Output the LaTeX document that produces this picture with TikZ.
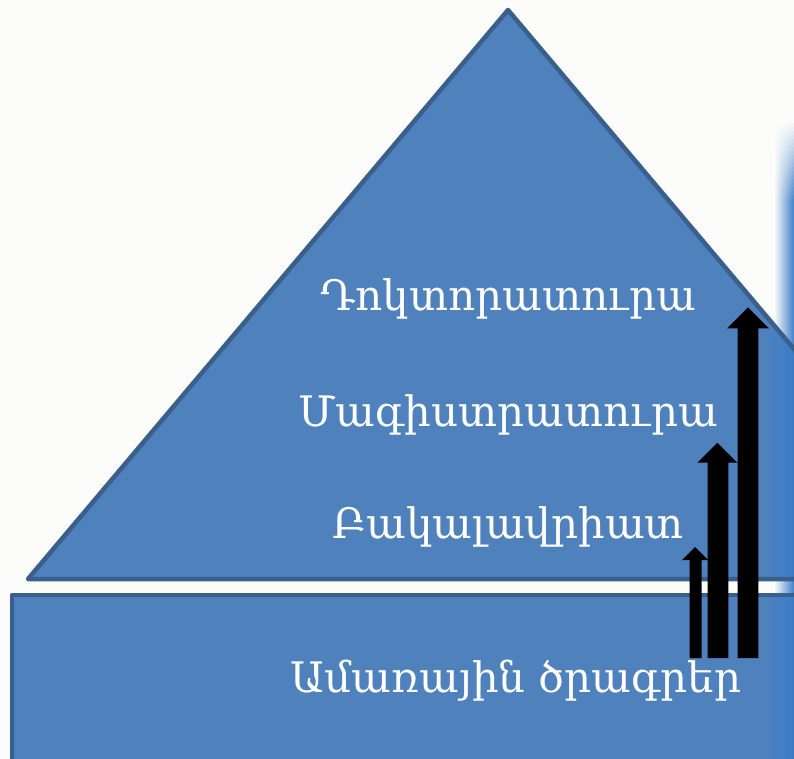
\documentclass[tikz,border=0pt]{standalone}
\usepackage{fontspec}
\setmainfont{DejaVu Serif}
\definecolor{bgwhite}{HTML}{FCFDFA}
\definecolor{fillblue}{HTML}{4F81BD}
\definecolor{edgeblue}{HTML}{3A5F8C}
\definecolor{glowblue}{HTML}{3C7CCA}
\tikzset{
  shapefill/.style={fill=fillblue},
  shapeedge/.style={draw=edgeblue, line width=4.5pt, line join=round},
  label/.style={text=white, anchor=base, inner sep=0pt, font=\fontsize{42}{50}\selectfont},
  blockarrow/.style={fill=black}
}
\begin{document}
\begin{tikzpicture}[x=1pt,y=-1pt]
\useasboundingbox (0,0) rectangle (794,759);
\begin{scope}
\clip (0,0) rectangle (794,759);
\fill[bgwhite] (0,0) rectangle (794,759);
% faint glow at the right edge, soft at its top
\foreach \i in {0,...,19}{
  \pgfmathsetmacro{\pct}{5*\i}
  \shade[left color=bgwhite, right color=glowblue!\pct!bgwhite]
    (774,{120+4*\i}) rectangle (794.5,{124.5+4*\i});
}
\shade[left color=bgwhite, right color=glowblue] (774,200) rectangle (794.5,759);
% triangle
\coordinate (apex) at (508,10);
\coordinate (bl) at (28,579);
\coordinate (br) at (988,579);
\fill[shapefill] (apex) -- (bl) -- (br) -- cycle;
\begin{scope}
\clip (apex) -- (bl) -- (br) -- cycle;
\shade[left color=fillblue, right color=glowblue] (764,0) rectangle (794.5,600);
\end{scope}
\draw[shapeedge] (apex) -- (bl) -- (br) -- cycle;
% base rectangle
\coordinate (rtl) at (12,595);
\coordinate (rbr) at (830,800);
\fill[shapefill] (rtl) rectangle (rbr);
\begin{scope}
\clip (rtl) rectangle (rbr);
\shade[left color=fillblue, right color=glowblue] (764,580) rectangle (794.5,800);
\end{scope}
\draw[shapeedge] (rtl) rectangle (rbr);
% labels
\node[label] (doc) at (508,310) {Դոկտորատուրա};
\node[label] (mag) at (508,426) {Մագիստրատուրա};
\node[label] (bak) at (508,538) {Բակալավրիատ};
\node[label] (sum) at (516,692) {Ամառային ծրագրեր};
% arrows
\fill[blockarrow] (689.5,658) -- (689.5,560) -- (682,560) -- (695,547) -- (708,560) -- (701.7,560) -- (701.7,658) -- cycle;
\fill[blockarrow] (707.7,658) -- (707.7,462.7) -- (697.3,462.7) -- (717.3,442.7) -- (737.3,462.7) -- (728.3,462.7) -- (728.3,658) -- cycle;
\fill[blockarrow] (737.7,658) -- (737.7,328.3) -- (727,328.3) -- (748,307.3) -- (769,328.3) -- (758.3,328.3) -- (758.3,658) -- cycle;
\end{scope}
\end{tikzpicture}
\end{document}
